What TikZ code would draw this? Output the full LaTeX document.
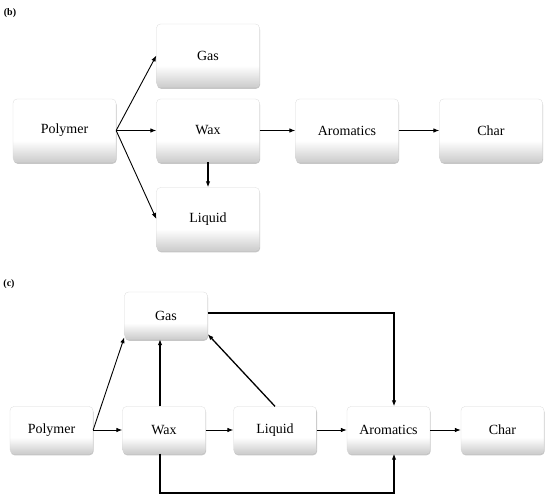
\documentclass[tikz,border=0pt]{standalone}
\usepackage{fontspec}
\setmainfont{Liberation Serif}
\usetikzlibrary{shadows,arrows.meta}

% Sombreado de las cajas
\pgfdeclareverticalshading{cajagris}{100bp}{color(0bp)=(gray!40); color(25bp)=(gray!40); color(42bp)=(white); color(100bp)=(white)}

\tikzset{
  caja/.style={rounded corners=4pt, draw=gray!30, line width=0.3pt,
    shading=cajagris,
    drop shadow={opacity=0.45, shadow xshift=0.6pt, shadow yshift=-1.8pt},
    font=\fontsize{14}{16}\selectfont, inner sep=0pt},
  cajaB/.style={caja, minimum width=103pt, minimum height=63pt},
  cajaC/.style={caja, minimum width=83pt, minimum height=47pt},
  flecha/.style={-{Latex[length=6pt,width=4.5pt]}, line width=0.9pt},
  gruesa/.style={-{Latex[length=6pt,width=4.5pt]}, line width=1.6pt},
  etiqueta/.style={font=\bfseries\fontsize{10}{12}\selectfont}
}

\begin{document}
\begin{tikzpicture}[x=1pt,y=-1pt]
  \useasboundingbox (0,0) rectangle (550,501);

  % Esquema (b)
  \node[etiqueta] (tb) at (10,13) {(b)};
  \node[cajaB] (Pb) at (64.5,130.5) {Polymer};
  \node[cajaB] (Gb) at (208,55.5) {Gas};
  \node[cajaB] (Wb) at (208,130.5) {Wax};
  \node[cajaB] (Lb) at (208,219) {Liquid};
  \node[cajaB] (Ab) at (347,130.5) {Aromatics};
  \node[cajaB] (Cb) at (491,130.5) {Char};

  \draw[flecha] (Pb.east) -- (Gb.west);
  \draw[flecha] (Pb.east) -- (Wb.west);
  \draw[flecha] (Pb.east) -- (Lb.west);
  \draw[gruesa] (Wb.south) -- (Lb.north);
  \draw[flecha] (Wb.east) -- (Ab.west);
  \draw[flecha] (Ab.east) -- (Cb.west);

  % Esquema (c)
  \node[etiqueta] (tc) at (9,284) {(c)};
  \node[cajaC] (Pc) at (51.5,430) {Polymer};
  \node[cajaC] (Gc) at (166,315.5) {Gas};
  \node[cajaC] (Wc) at (164,430) {Wax};
  \node[cajaC] (Lc) at (275,430) {Liquid};
  \node[cajaC] (Ac) at (388.5,430) {Aromatics};
  \node[cajaC] (Cc) at (502.5,430) {Char};

  \draw[flecha] (Pc.east) -- ([yshift=2pt]Gc.south west);
  \draw[flecha] (Pc.east) -- (Wc.west);
  \draw[flecha, line width=1.3pt] ([xshift=-4pt]Wc.north) -- ([xshift=-4pt]Wc.north |- Gc.south);
  \draw[flecha, line width=1.3pt] (Lc.north) -- ([yshift=5pt]Gc.south east);
  \draw[flecha] (Wc.east) -- (Lc.west);
  \draw[flecha] (Lc.east) -- (Ac.west);
  \draw[flecha] (Ac.east) -- (Cc.west);
  \coordinate (ga) at (394,313);
  \draw[flecha, line width=1.3pt] (Gc.east |- ga) -- (ga) -- (ga |- Ac.north);
  \coordinate (wa) at (394,493);
  \draw[flecha, line width=1.3pt] ([xshift=-4pt]Wc.south) |- (wa) -- (wa |- Ac.south);

\end{tikzpicture}
\end{document}
